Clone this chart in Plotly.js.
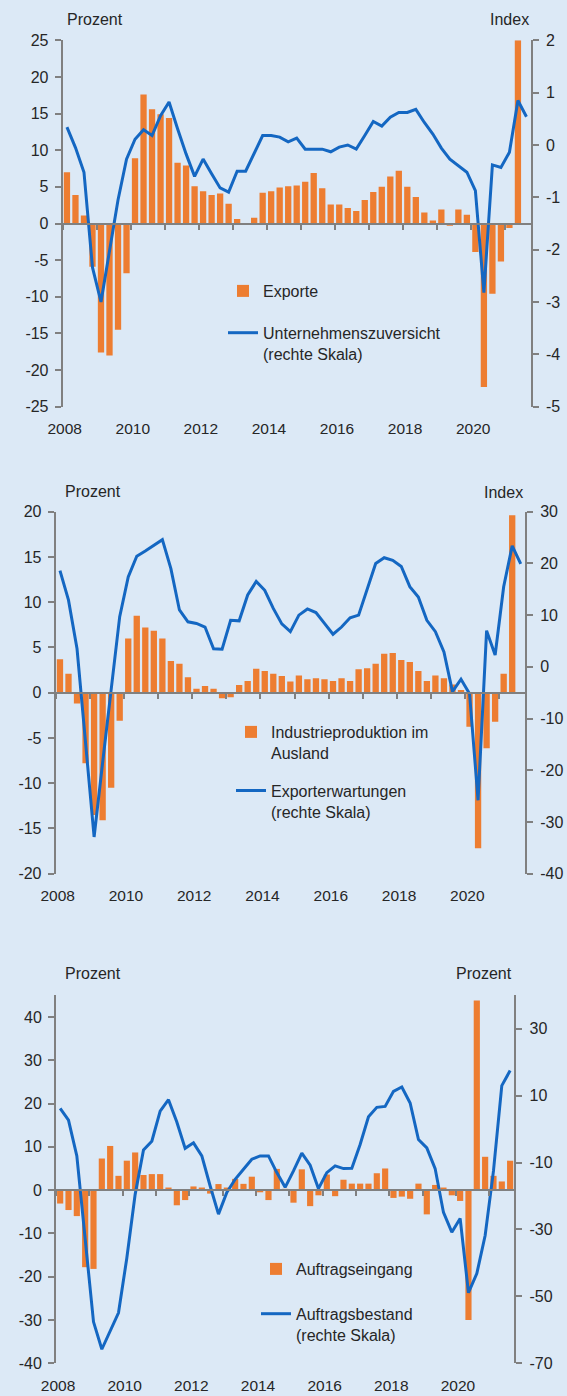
<!DOCTYPE html>
<html><head><meta charset="utf-8">
<script src="https://cdn.plot.ly/plotly-3.0.1.min.js"></script>
<style>html,body{margin:0;padding:0;background:#dce9f6;} #chart{width:567px;height:1396px;}</style>
</head><body><div id="chart"></div>
<script>
// ---------- DATA ----------
const quarters = [
 'Q1 2008','Q2 2008','Q3 2008','Q4 2008','Q1 2009','Q2 2009','Q3 2009','Q4 2009',
 'Q1 2010','Q2 2010','Q3 2010','Q4 2010','Q1 2011','Q2 2011','Q3 2011','Q4 2011',
 'Q1 2012','Q2 2012','Q3 2012','Q4 2012','Q1 2013','Q2 2013','Q3 2013','Q4 2013',
 'Q1 2014','Q2 2014','Q3 2014','Q4 2014','Q1 2015','Q2 2015','Q3 2015','Q4 2015',
 'Q1 2016','Q2 2016','Q3 2016','Q4 2016','Q1 2017','Q2 2017','Q3 2017','Q4 2017',
 'Q1 2018','Q2 2018','Q3 2018','Q4 2018','Q1 2019','Q2 2019','Q3 2019','Q4 2019',
 'Q1 2020','Q2 2020','Q3 2020','Q4 2020','Q1 2021','Q2 2021','Q3 2021'
];
// Panel 1
const exporte = [7.0,3.9,1.1,-5.9, -17.6,-18.0,-14.5,-6.8, 8.9,17.6,15.6,14.9, 14.4,8.3,7.9,5.1,
 4.4,3.9,4.1,2.7, 0.6,-0.2,0.8,4.2, 4.4,4.9,5.1,5.2, 5.7,6.9,4.8,2.6, 2.6,2.1,1.7,3.2,
 4.3,5.0,6.4,7.2, 5.0,3.6,1.5,0.4, 1.9,-0.3,1.9,1.2, -3.9,-22.3,-9.6,-5.2, -0.6,25.0];
const zuversicht = [0.34,-0.05,-0.52,-2.34, -3.0,-2.0,-1.05,-0.27, 0.11,0.29,0.18,0.56, 0.82,0.31,-0.17,-0.60,
 -0.27,-0.55,-0.82,-0.90, -0.50,-0.50,-0.17,0.18, 0.18,0.15,0.06,0.13, -0.08,-0.08,-0.08,-0.13,
 -0.04,0.0,-0.08,0.18, 0.45,0.36,0.53,0.62, 0.62,0.68,0.43,0.21, -0.06,-0.27,-0.39,-0.52,
 -0.87,-2.82,-0.38,-0.43, -0.14,0.85,0.54];
// Panel 2
const industrieAusland = [3.7,2.1,-1.2,-7.8, -13.5,-14.1,-10.5,-3.1, 6.0,8.5,7.2,6.85, 6.0,3.5,3.2,1.7,
 0.45,0.75,0.45,-0.6, -0.5,0.85,1.3,2.65, 2.4,2.1,1.85,1.25, 1.9,1.5,1.6,1.5, 1.3,1.6,1.3,2.6,
 2.7,3.2,4.3,4.4, 3.6,3.4,2.4,1.3, 1.9,1.6,0.9,0.3, -3.75,-17.2,-6.15,-3.2, 2.1,19.6];
const exporterwartungen = [18.6,12.9,3.5,-14.6, -32.9,-18.5,-4.5,9.7, 17.4,21.4,22.4,23.5, 24.6,19.0,11.0,8.7,
 8.4,7.7,3.5,3.4, 9.0,8.9,13.9,16.5, 14.8,11.3,8.3,6.8, 10.0,11.2,10.5,8.4, 6.3,7.7,9.5,10.0,
 14.8,20.0,21.1,20.6, 19.4,15.5,13.5,9.0, 6.8,2.9,-4.8,-2.4, -5.2,-25.8,7.0,2.3, 15.5,23.4,19.9];
// Panel 3
const auftragseingang = [-3.1,-4.6,-6.0,-17.8, -18.2,7.3,10.2,3.3, 6.8,8.7,3.5,3.7, 3.7,0.6,-3.5,-2.3,
 0.85,0.6,-0.8,1.4, 0.6,2.6,1.45,3.1, -0.5,-2.3,4.9,0.3, -2.9,4.8,-3.7,-1.2, 3.6,-1.4,2.4,1.5,
 1.5,1.5,3.9,5.0, -1.8,-1.5,-2.0,1.5, -5.6,1.2,0.6,-1.2, -2.5,-30.0,43.8,7.7, 3.3,2.0,6.8];
const auftragsbestand = [6.2,2.7,-8.0,-33.3, -57.6,-65.8,-60.4,-54.9, -38.5,-19.5,-6.25,-3.6, 5.4,8.8,2.1,-5.75,
 -4.1,-8.0,-17.0,-25.4, -18.9,-15.0,-12.0,-9.0, -8.0,-8.0,-13.0,-17.4, -12.5,-7.2,-10.8,-17.8,
 -13.0,-11.0,-11.8,-11.7, -4.6,3.7,6.5,6.8, 11.3,12.6,7.8,-3.1, -5.6,-11.8,-24.9,-30.8,
 -26.7,-48.9,-43.2,-31.8, -12.5,13.0,17.5];
// Ticks
const yearTicks = [2008,2009,2010,2011,2012,2013,2014,2015,2016,2017,2018,2019,2020,2021];
const labelYears = [2008,2010,2012,2014,2016,2018,2020];
const p1Left = [-25,-20,-15,-10,-5,0,5,10,15,20,25];
const p1Right = [-5,-4,-3,-2,-1,0,1,2];
const p2Left = [-20,-15,-10,-5,0,5,10,15,20];
const p2Right = [-40,-30,-20,-10,0,10,20,30];
const p3Left = [-40,-30,-20,-10,0,10,20,30,40];
const p3Right = [-70,-50,-30,-10,10,30];

// ---------- LAYOUT HELPERS ----------
const W = 567, H = 1396;
const FONT = 'Liberation Sans, Arial, sans-serif';
const TXT = '#262626', GRAY = '#808080', ORANGE = '#ed7d31', BLUE = '#1467c2', BG = '#dce9f6';
function qx(q){ const yr = +q.slice(3); const n = +q.charAt(1); return yr + (n-1)/4 + 0.125; }
const xs = quarters.map(qx);
const dx = (l,r) => [l/W, r/W];
const dy = (t,b) => [1-b/H, 1-t/H];
const XR = [2008, 2021.75];

const panels = [
  {box:[62.7,530.7,40.3,406.7], yl:[-25,25], yr:[-5,2], lt:p1Left, rt:p1Right},
  {box:[55.7,525,511.7,873.7], yl:[-20,20], yr:[-40,30], lt:p2Left, rt:p2Right},
  {box:[56,514.3,995.3,1363.3], yl:[-40,45], yr:[-70,40], lt:p3Left, rt:p3Right}
];

const layout = {
  width: W, height: H, margin:{l:0,r:0,t:0,b:0},
  paper_bgcolor: BG, plot_bgcolor: BG,
  font:{family:FONT, size:16, color:TXT},
  showlegend:true, bargap:0.26, hovermode:false,
  annotations:[], 
};

panels.forEach((p,i) => {
  const n = i*2+1;
  const xid = i+1;
  const zid = i+4;
  const xd = dx(p.box[0], p.box[1]);
  const yd = dy(p.box[2], p.box[3]);
  const sfx = k => (k===1 ? '' : k);
  const zeroPos = yd[0] + (0 - p.yl[0])/(p.yl[1]-p.yl[0])*(yd[1]-yd[0]);
  layout['xaxis'+sfx(xid)] = {
    domain: xd, range: XR, anchor: 'y'+sfx(n), showgrid:false, zeroline:false, showline:false,
    tickmode:'array', tickvals: labelYears, ticktext: labelYears.map(String),
    ticks:'', ticklabelstandoff: 11, ticklabelshift: 2, tickfont:{size:15.5, color:TXT}, fixedrange:true
  };
  layout['xaxis'+zid] = {
    overlaying: 'x'+sfx(xid), anchor:'free', position: zeroPos, side:'bottom', range: XR,
    showgrid:false, zeroline:false, showline:true, linecolor:GRAY, linewidth:2,
    tickmode:'array', tickvals: yearTicks, showticklabels:false,
    ticks:'outside', ticklen:5, tickwidth:2, tickcolor:GRAY, fixedrange:true
  };
  layout['yaxis'+sfx(n)] = {
    domain: yd, range: p.yl, anchor:'x'+sfx(xid), showgrid:false, zeroline:false,
    showline:true, linecolor:GRAY, linewidth:2, ticks:'outside', ticklen:6, tickwidth:2, tickcolor:GRAY,
    tickmode:'array', tickvals:p.lt, ticktext:p.lt.map(String), ticklabelstandoff:3,
    tickfont:{size:16, color:TXT}, fixedrange:true
  };
  layout['yaxis'+(n+1)] = {
    overlaying:'y'+sfx(n), side:'right', anchor:'x'+sfx(xid), range:p.yr, showgrid:false, zeroline:false,
    showline:true, linecolor:GRAY, linewidth:2, ticks:'outside', ticklen:6, tickwidth:2, tickcolor:GRAY,
    tickmode:'array', tickvals:p.rt, ticktext:p.rt.map(String), ticklabelstandoff:4,
    tickfont:{size:16, color:TXT}, fixedrange:true
  };
});

const titles = [
  ['Prozent', 94.7, 20], ['Index', 509, 20],
  ['Prozent', 92.5, 491.7], ['Index', 503.3, 492.3],
  ['Prozent', 92.5, 973.3], ['Prozent', 484, 973.3]
];
titles.forEach(t => layout.annotations.push({
  text:t[0], xref:'paper', yref:'paper', x:t[1]/W, y:1-t[2]/H, xanchor:'center', yanchor:'middle',
  showarrow:false, font:{size:16, color:TXT}
}));

const legendBase = {xanchor:'left', yanchor:'top', bgcolor:'rgba(0,0,0,0)', traceorder:'grouped',
  valign:'top', font:{size:16, color:TXT}, itemclick:false, itemdoubleclick:false};
layout.legend  = Object.assign({}, legendBase, {x:223/W, y:1-274/H, tracegroupgap:18});
layout.legend2 = Object.assign({}, legendBase, {x:231/W, y:1-715/H, tracegroupgap:14});
layout.legend3 = Object.assign({}, legendBase, {x:256/W, y:1-1252/H, tracegroupgap:21});

const barX = arr => xs.slice(0, arr.length);
const data = [
  {type:'bar', x:barX(exporte), y:exporte, xaxis:'x', yaxis:'y', marker:{color:ORANGE},
   name:'Exporte', legend:'legend', legendgroup:'a1'},
  {type:'scatter', mode:'lines', x:barX(zuversicht), y:zuversicht, xaxis:'x4', yaxis:'y2',
   line:{color:BLUE, width:3}, name:'Unternehmenszuversicht<br>(rechte Skala)', legend:'legend', legendgroup:'b1'},
  {type:'bar', x:barX(industrieAusland), y:industrieAusland, xaxis:'x2', yaxis:'y3', marker:{color:ORANGE},
   name:'Industrieproduktion im<br>Ausland', legend:'legend2', legendgroup:'a2'},
  {type:'scatter', mode:'lines', x:barX(exporterwartungen), y:exporterwartungen, xaxis:'x5', yaxis:'y4',
   line:{color:BLUE, width:3}, name:'Exporterwartungen<br>(rechte Skala)', legend:'legend2', legendgroup:'b2'},
  {type:'bar', x:barX(auftragseingang), y:auftragseingang, xaxis:'x3', yaxis:'y5', marker:{color:ORANGE},
   name:'Auftragseingang', legend:'legend3', legendgroup:'a3'},
  {type:'scatter', mode:'lines', x:barX(auftragsbestand), y:auftragsbestand, xaxis:'x6', yaxis:'y6',
   line:{color:BLUE, width:3}, name:'Auftragsbestand<br>(rechte Skala)', legend:'legend3', legendgroup:'b3'}
];

Plotly.newPlot('chart', data, layout, {staticPlot:true, displayModeBar:false});
</script></body></html>
